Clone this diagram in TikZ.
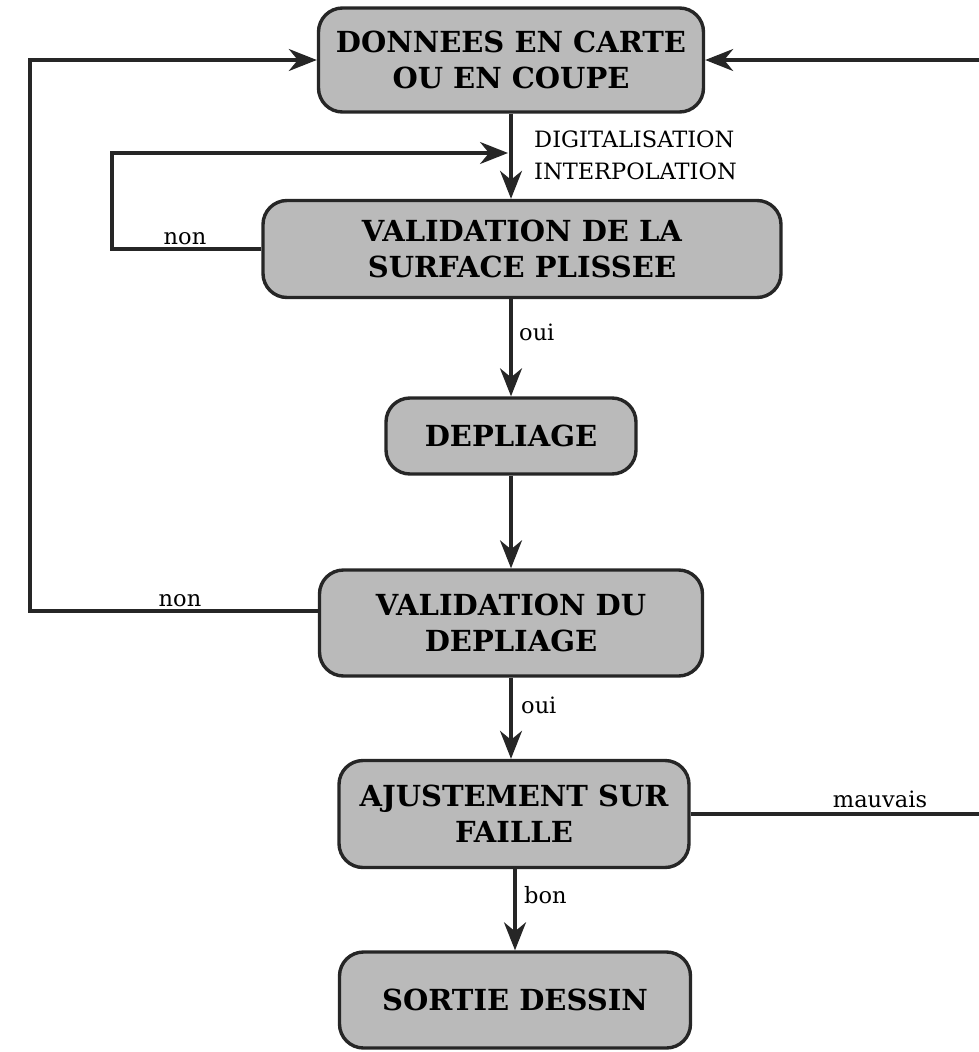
\documentclass[tikz,border=0pt]{standalone}
\usepackage{fontspec}
\setmainfont{DejaVu Serif}
\usetikzlibrary{arrows.meta,calc}

\begin{document}
\begin{tikzpicture}[
            x=1pt, y=-1pt,
            >={Stealth[length=28pt, width=22pt, inset=9pt]},
            etape/.style={draw=black!85, line width=3.4pt, rounded corners=24pt, fill=black!27, align=center, inner sep=0pt, font=\fontsize{29}{36}\selectfont\bfseries},
            lien/.style={line width=3.2pt, draw=black!85},
            fleche/.style={lien, ->},
            etiquette/.style={font=\fontsize{22.5}{32}\selectfont, inner sep=2pt}
        ]

        % Cadre de la figure
        \useasboundingbox (0,0) rectangle (979,1052);
        \clip (0,0) rectangle (979,1052);

        % Coins des boucles de retour
        \coordinate (coinA) at (112,153);
        \coordinate (jonction) at (511,153);
        \coordinate (coinB) at (30,60);
        \coordinate (coinC) at (995,60);

        % Etapes de la chaine
        \node[etape, minimum width=385pt, minimum height=104pt] (donnees) at (511,60) {DONNEES EN CARTE\\OU EN COUPE};
        \node[etape, minimum width=518pt, minimum height=97pt] (surface) at (522,249) {VALIDATION DE LA\\SURFACE PLISSEE};
        \node[etape, minimum width=250pt, minimum height=76pt] (depliage) at (511,436) {DEPLIAGE};
        \node[etape, minimum width=383pt, minimum height=106pt] (valdep) at (511,623) {VALIDATION DU\\DEPLIAGE};
        \node[etape, minimum width=350pt, minimum height=107pt] (ajust) at (514,814) {AJUSTEMENT SUR\\FAILLE};
        \node[etape, minimum width=351pt, minimum height=96pt] (sortie) at (515,1000) {SORTIE DESSIN};

        % Enchainement vertical
        \draw[fleche] (donnees.south) -- (donnees.south |- surface.north);
        \draw[fleche] (surface.south -| depliage.north) -- (depliage.north);
        \draw[fleche] (depliage.south) -- (valdep.north);
        \draw[fleche] (valdep.south) -- (valdep.south |- ajust.north);
        \draw[fleche] (ajust.south -| sortie.north) -- (sortie.north);

        % Boucles de retour
        \draw[fleche, shorten >=3pt] (surface.west) -| (coinA) -- (jonction);
        \draw[fleche] ([yshift=12pt]valdep.west) -| (coinB) -- (donnees.west);
        \draw[fleche] (ajust.east) -| (coinC) -- (donnees.east);

        % Etiquettes
        \node[etiquette, anchor=west, align=left] (traitement) at (532,155) {DIGITALISATION\\INTERPOLATION};
        \node[etiquette, anchor=south] (nonA) at (185,247) {non};
        \node[etiquette, anchor=west] (ouiA) at (517,332) {oui};
        \node[etiquette, anchor=south] (nonB) at (180,609) {non};
        \node[etiquette, anchor=west] (ouiB) at (519,705) {oui};
        \node[etiquette, anchor=south] (mauvais) at (880,810) {mauvais};
        \node[etiquette, anchor=west] (bon) at (522,895) {bon};

    \end{tikzpicture}
\end{document}
